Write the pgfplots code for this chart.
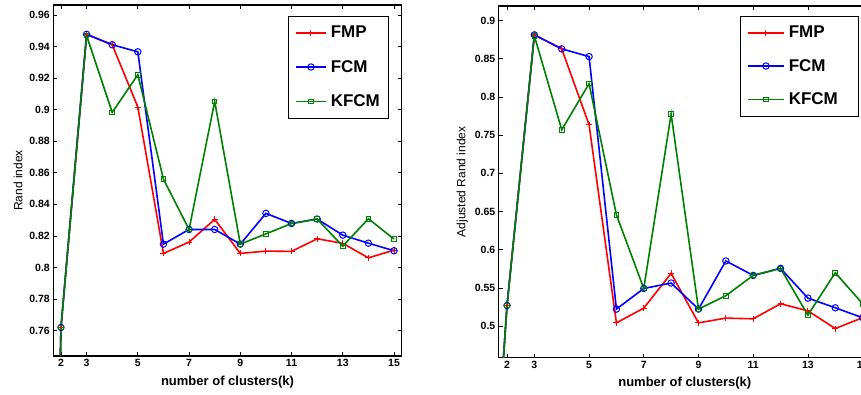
\documentclass[border=0pt]{standalone}
\usepackage{pgfplots}
\pgfplotsset{compat=1.18}
\usepackage{fontspec}
\setmainfont{Liberation Sans}
\definecolor{mgreen}{rgb}{0,0.5,0}
\pgfplotstableread{
k FMP FCM KFCM
1 0 0 0
2 0.762 0.762 0.762
3 0.9478 0.9478 0.947
4 0.9412 0.9412 0.8983
5 0.9017 0.9367 0.9222
6 0.8089 0.8148 0.856
7 0.8161 0.8241 0.8241
8 0.8305 0.8241 0.9053
9 0.8089 0.8148 0.8148
10 0.8104 0.8343 0.8213
11 0.8102 0.8279 0.8279
12 0.8182 0.8307 0.8307
13 0.8153 0.8205 0.8135
14 0.8061 0.8154 0.8309
15 0.8110 0.8106 0.8180
}\leftdata
\pgfplotstableread{
k FMP FCM KFCM
1 0 0 0
2 0.527 0.527 0.527
3 0.8812 0.8812 0.8800
4 0.8629 0.8629 0.7570
5 0.7636 0.8528 0.8173
6 0.5043 0.5223 0.6456
7 0.5236 0.5493 0.5493
8 0.5690 0.5564 0.7776
9 0.5043 0.5223 0.5223
10 0.5105 0.5853 0.5398
11 0.5096 0.5664 0.5664
12 0.5293 0.5756 0.5756
13 0.5200 0.5367 0.5144
14 0.4969 0.5240 0.5699
15 0.5110 0.5110 0.5293
}\rightdata
\pgfplotsset{
  myax/.style={
    scale only axis,
    anchor=south west,
    xmin=1.7, xmax=15.3,
    xtick={2,3,5,7,9,11,13,15},
    tick align=inside,
    major tick length=4pt,
    axis line style={line width=1.1pt},
    every tick/.style={black, line width=0.8pt},
    /pgf/number format/assume math mode=true,
    ticklabel style={font=\bfseries\fontsize{10.5}{12}\selectfont},
    xlabel={\bfseries number of clusters(k)},
    xlabel style={font=\fontsize{13}{15}\selectfont, yshift=-2pt},
    ylabel style={font=\fontsize{12}{14}\selectfont},
    clip=true,
    legend cell align=left,
    legend style={at={(1,1)}, anchor=north east,
      draw=black, line width=0.9pt, font=\bfseries\fontsize{17}{20}\selectfont,
      row sep=17pt, column sep=2pt, inner xsep=7pt, inner ysep=8pt},
  },
  limg/.style={legend image code/.code={\draw[mark repeat=2,mark phase=2,##1,line width=1.6pt] plot coordinates {(0pt,0pt) (#1/2,0pt) (#1,0pt)};}},
  fmp/.style={color=red, line width=1.6pt, mark=+, mark size=3pt, mark options={line width=1pt}},
  fcm/.style={color=blue, line width=1.6pt, mark=o, mark size=3.2pt, mark options={line width=1pt}},
  kfcm/.style={color=mgreen, line width=1.6pt, mark=square, mark size=2.3pt, mark options={line width=1pt}},
}
\begin{document}
\begin{tikzpicture}
\path[use as bounding box] (0,0) rectangle (861pt,395pt);
\clip (0,0) rectangle (861pt,395pt);
\begin{axis}[myax, at={(53.3pt,39pt)}, width=348.4pt, height=351pt,
  ymin=0.7439, ymax=0.9664,
  ytick={0.76,0.78,0.8,0.82,0.84,0.86,0.88,0.9,0.92,0.94,0.96},
  yticklabels={0.76,0.78,0.8,0.82,0.84,0.86,0.88,0.9,0.92,0.94,0.96},
  ylabel={Rand index},
  limg=30pt,
  legend style={xshift=-12.4pt, yshift=-10.7pt}]
\addplot[fmp] table[x=k,y=FMP] {\leftdata};
\addplot[fcm] table[x=k,y=FCM] {\leftdata};
\addplot[kfcm] table[x=k,y=KFCM] {\leftdata};
\legend{FMP,FCM,KFCM}
\end{axis}
\begin{axis}[myax, at={(498.8pt,37.3pt)}, width=372pt, height=351.7pt,
  ymin=0.4587, ymax=0.919,
  ytick={0.5,0.55,0.6,0.65,0.7,0.75,0.8,0.85,0.9},
  yticklabels={0.5,0.55,0.6,0.65,0.7,0.75,0.8,0.85,0.9},
  ylabel={Adjusted Rand index},
  limg=36pt,
  legend style={xshift=-11.5pt, yshift=-9.7pt, row sep=16pt}]
\addplot[fmp] table[x=k,y=FMP] {\rightdata};
\addplot[fcm] table[x=k,y=FCM] {\rightdata};
\addplot[kfcm] table[x=k,y=KFCM] {\rightdata};
\legend{FMP,FCM,KFCM\rule{12pt}{0pt}}
\end{axis}
\end{tikzpicture}
\end{document}
